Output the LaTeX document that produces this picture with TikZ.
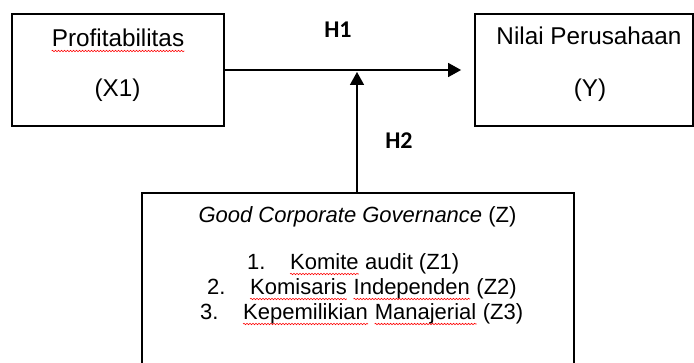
\documentclass[tikz,border=0pt]{standalone}
\usepackage{fontspec}
\setmainfont{Liberation Sans}
\newfontfamily\hfont{Carlito}
\usetikzlibrary{arrows.meta,decorations.pathmorphing}
\begin{document}
\begin{tikzpicture}[x=1pt,y=-1pt,
  box/.style={draw,line width=1.8pt,rectangle,inner sep=0pt},
  txt/.style={inner sep=0pt,font=\fontsize{24.3}{29}\selectfont},
  stxt/.style={inner sep=0pt,font=\fontsize{22}{26}\selectfont},
  hyp/.style={inner sep=0pt,font=\hfont\bfseries\fontsize{24}{28}\selectfont},
  arr/.style={line width=1.5pt,-{Triangle[length=13pt,width=14pt]}},
  squig/.style={red,line width=0.6pt,decorate,decoration={snake,segment length=3pt,amplitude=0.7pt}}]
\clip (0,0) rectangle (694,363);
% boxes
\node[box,minimum width=212pt,minimum height=112pt] (x1) at (118,70) {};
\node[box,minimum width=218pt,minimum height=112pt] (y) at (584,70) {};
\node[box,minimum width=432pt,minimum height=207pt] (z) at (358,296.5) {};
% texts of top boxes
\node[txt,anchor=base] (p) at (118,47) {Profitabilitas};
\node[txt,anchor=base] (px) at (117.5,97) {(X1)};
\node[txt,anchor=base] (n) at (589,45) {Nilai Perusahaan};
\node[txt,anchor=base] (ny) at (590,97) {(Y)};
% bottom box texts
\node[stxt,anchor=base] (g) at (357.5,223) {\itshape Good Corporate Governance\/\upshape{} (Z)};
\node[stxt,anchor=base west] (n1) at (247,270) {1.};
\node[stxt,anchor=base west] (k1) at (290,270) {Komite};
\node[stxt,anchor=base west] (k1b) at (k1.base east) {\ audit (Z1)};
\node[stxt,anchor=base west] (n2) at (207,295) {2.};
\node[stxt,anchor=base west] (k2) at (250,295) {Komisaris};
\node[stxt,anchor=base west] (k2b) at (k2.base east) {\ \null};
\node[stxt,anchor=base west] (k2c) at (k2b.base east) {Independen};
\node[stxt,anchor=base west] (k2d) at (k2c.base east) {\ (Z2)};
\node[stxt,anchor=base west] (n3) at (200,320) {3.};
\node[stxt,anchor=base west] (k3) at (243,320) {Kepemilikian};
\node[stxt,anchor=base west] (k3b) at (k3.base east) {\ \null};
\node[stxt,anchor=base west] (k3c) at (k3b.base east) {Manajerial};
\node[stxt,anchor=base west] (k3d) at (k3c.base east) {\ (Z3)};
% spell-check squiggles
\foreach \w in {p,k1,k2,k2c,k3,k3c}{
  \draw[squig] ([yshift=-4pt]\w.base west) -- ([yshift=-4pt]\w.base east);
}
% hypothesis labels
\node[hyp,anchor=base] (h1) at (338,38) {H1};
\node[hyp,anchor=base] (h2) at (399,149) {H2};
% connectors
\draw[arr,shorten >=13pt] (x1.east) -- (y.west);
\coordinate (m) at (357,72);
\draw[arr] (z.north -| m) -- (m);
\end{tikzpicture}
\end{document}
